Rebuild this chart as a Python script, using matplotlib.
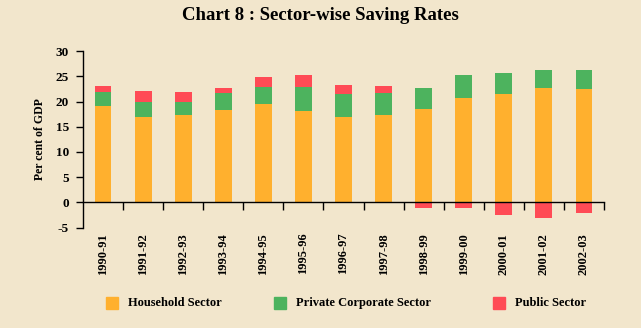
import numpy as np
import matplotlib
matplotlib.use('Agg')
import matplotlib.pyplot as plt
from matplotlib.patches import Patch

years = ['1990-91', '1991-92', '1992-93', '1993-94', '1994-95', '1995-96', '1996-97',
         '1997-98', '1998-99', '1999-00', '2000-01', '2001-02', '2002-03']
household = [19.1, 17.0, 17.4, 18.4, 19.6, 18.2, 17.0, 17.4, 18.5, 20.7, 21.5, 22.7, 22.5]
private_corp = [2.9, 3.0, 2.6, 3.3, 3.3, 4.7, 4.6, 4.3, 4.2, 4.6, 4.2, 3.6, 3.8]
public = [1.1, 2.1, 1.9, 1.0, 2.0, 2.4, 1.8, 1.4, -1.1, -1.1, -2.5, -3.1, -2.1]

bg = '#F2E6CC'
c_hh = '#FFB02E'
c_pc = '#4DB35E'
c_pub = '#FF4B55'

plt.rcParams['font.family'] = ['Liberation Serif', 'DejaVu Serif']
plt.rcParams['font.weight'] = 'bold'
plt.rcParams['axes.unicode_minus'] = False

fig = plt.figure(figsize=(6.41, 3.28), dpi=100, facecolor=bg)
ax = fig.add_axes([83/641, 1-227.5/328, (604-83)/641, (227.5-51.3)/328])
ax.set_facecolor(bg)

x = np.arange(len(years))
hh = np.array(household)
pc = np.array(private_corp)
pub = np.array(public)
w = 0.42

ax.bar(x, hh, w, color=c_hh)
ax.bar(x, pc, w, bottom=hh, color=c_pc)
# public sector sits on top when positive, hangs below zero when negative
pub_base = np.where(pub > 0, hh + pc, 0)
ax.bar(x, pub, w, bottom=pub_base, color=c_pub)

ax.set_xlim(-0.5, len(years) - 0.5)
ax.set_ylim(-5, 30)
ax.set_yticks(range(-5, 31, 5))
ax.tick_params(axis='y', direction='out', length=5, width=1, labelsize=9.5, pad=5)

for s in ['top', 'right']:
    ax.spines[s].set_visible(False)
ax.spines['bottom'].set_position(('data', 0))
ax.spines['left'].set_linewidth(1)
ax.spines['bottom'].set_linewidth(1)

ax.set_xticks(np.arange(0.5, len(years), 1))
ax.set_xticklabels([])
ax.tick_params(axis='x', direction='out', length=6, width=1)

for i, lab in enumerate(years):
    ax.text(i, -0.03, lab, transform=ax.get_xaxis_transform(), rotation=90,
            ha='center', va='top', fontsize=9, fontweight='bold')

ax.set_ylabel('Per cent of GDP', fontsize=8.5, fontweight='bold', labelpad=7)

fig.text(0.5, 1-16/328, 'Chart 8 : Sector-wise Saving Rates', ha='center', va='center',
         fontsize=13.5, fontweight='bold')

handles = [Patch(color=c_hh), Patch(color=c_pc), Patch(color=c_pub)]
names = ['Household Sector', 'Private Corporate Sector', 'Public Sector']
xpos = [106, 274, 493]
for h, n, xp in zip(handles, names, xpos):
    fig.patches.append(plt.Rectangle((xp/641, 1-309/328), 12/641, 12/328,
                                     transform=fig.transFigure, color=h.get_facecolor()))
    fig.text((xp+22)/641, 1-303/328, n, ha='left', va='center', fontsize=9, fontweight='bold')

fig.savefig('out.png', dpi=100, facecolor=bg)
